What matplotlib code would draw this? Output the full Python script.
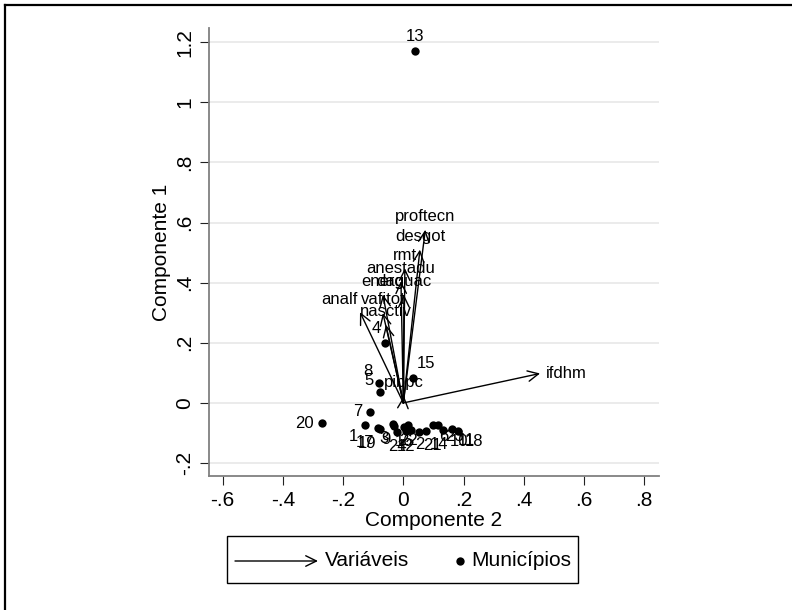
import numpy as np
import matplotlib.pyplot as plt
from matplotlib.lines import Line2D
from matplotlib.patches import Rectangle, FancyArrowPatch

plt.rcParams['font.family'] = ['Liberation Sans', 'DejaVu Sans']

# variables (arrows): loadings on Componente 2 (x) and Componente 1 (y)
var_names = ['proftecn', 'desgot', 'rmt', 'anestadu', 'energ', 'daguac',
             'analf', 'vafitot', 'nasctiv', 'pibpc', 'ifdhm']
var_x = [0.073, 0.055, 0.005, -0.008, -0.068, 0.002,
         -0.144, -0.068, -0.058, 0.002, 0.454]
var_y = [0.576, 0.510, 0.448, 0.405, 0.360, 0.360,
         0.302, 0.299, 0.260, 0.023, 0.098]

# municipios (points)
mun_id = [13, 15, 8, 5, 4, 20, 7, 1,
          19, 17, 3, 9, 24, 16, 12, 22, 2, 21, 14, 6, 23, 10, 11, 18]
mun_x = [0.039, 0.033, -0.080, -0.077, -0.061, -0.271, -0.111, -0.128,
         -0.078, -0.083, -0.036, -0.030, -0.020, 0.002, 0.008, 0.016, 0.026,
         0.053, 0.075, 0.097, 0.116, 0.133, 0.160, 0.182]
mun_y = [1.170, 0.084, 0.066, 0.037, 0.200, -0.068, -0.029, -0.074,
         -0.088, -0.084, -0.070, -0.076, -0.096, -0.079, -0.093, -0.073, -0.090,
         -0.096, -0.092, -0.073, -0.073, -0.090, -0.088, -0.092]

fs = 15
fig = plt.figure(figsize=(7.92, 6.10), dpi=100)
ax = fig.add_axes([209/792, 134/610, 450/792, 448/610])
ax.set_xlim(-0.6455, 0.849)
ax.set_ylim(-0.243, 1.247)

ax.set_xticks([-0.6, -0.4, -0.2, 0, 0.2, 0.4, 0.6, 0.8])
ax.set_xticklabels(['-.6', '-.4', '-.2', '0', '.2', '.4', '.6', '.8'])
ax.set_yticks([-0.2, 0, 0.2, 0.4, 0.6, 0.8, 1.0, 1.2])
ax.set_yticklabels(['-.2', '0', '.2', '.4', '.6', '.8', '1', '1.2'],
                   rotation=90, va='center')
ax.tick_params(direction='out', length=6.5, width=0.8, color='#222222',
               labelsize=fs, pad=4)
for s in ['top', 'right']:
    ax.spines[s].set_visible(False)
for s in ['left', 'bottom']:
    ax.spines[s].set_color('#808080')
    ax.spines[s].set_linewidth(1.3)
ax.yaxis.grid(True, color='#e8e8e8', lw=1.2)
ax.set_axisbelow(True)
ax.set_xlabel('Componente 2', fontsize=fs, labelpad=1)
ax.set_ylabel('Componente 1', fontsize=fs, labelpad=3)


# stata-like clock position from direction angle
def clock(x, y, d=5):
    ang = np.degrees(np.arctan2(y, x))
    pos = int(round((90 - ang) / 30)) % 12
    a = np.deg2rad(90 - 30 * pos)
    dx, dy = d * np.cos(a), d * np.sin(a)
    ha = 'center' if abs(dx) < 1e-6 else ('left' if dx > 0 else 'right')
    va = 'center' if abs(dy) < 2 else ('bottom' if dy > 0 else 'top')
    return dx, dy, ha, va


ax.scatter(mun_x, mun_y, s=36, color='black', zorder=3, linewidths=0)
for i, x, y in zip(mun_id, mun_x, mun_y):
    dx, dy, ha, va = clock(x, y, 5.5)
    ax.annotate(str(i), (x, y), xytext=(dx, dy), textcoords='offset points',
                ha=ha, va=va, fontsize=12)

for n, x, y in zip(var_names, var_x, var_y):
    ax.annotate('', xy=(x, y), xytext=(0, 0),
                arrowprops=dict(arrowstyle='->,head_length=0.55,head_width=0.27',
                                lw=1, color='black', shrinkA=0, shrinkB=0,
                                mutation_scale=14))
    dx, dy, ha, va = clock(x, y, 4)
    ax.annotate(n, (x, y), xytext=(dx, dy), textcoords='offset points',
                ha=ha, va=va, fontsize=12)

# legend box
ly = 1 - 561/610
fig.add_artist(Rectangle((227/792, 1 - 583/610), 351/792, 47/610,
                         transform=fig.transFigure, fill=False, lw=1, ec='black'))
fig.add_artist(FancyArrowPatch((235/792, ly), (318/792, ly),
                               transform=fig.transFigure,
                               arrowstyle='->,head_length=0.55,head_width=0.27',
                               mutation_scale=14, lw=1, color='black',
                               shrinkA=0, shrinkB=0))
fig.text(325/792, ly, 'Variáveis', fontsize=fs, va='center')
fig.add_artist(Line2D([460/792], [ly], marker='o', ms=6, mew=0,
                      color='black', transform=fig.transFigure))
fig.text(471/792, ly, 'Municípios', fontsize=fs, va='center')

# outer frame (top and left edges visible)
fig.add_artist(Line2D([5/792, 5/792], [0, 1 - 5/610], color='black', lw=1.6,
                      transform=fig.transFigure))
fig.add_artist(Line2D([5/792, 1], [1 - 5/610, 1 - 5/610], color='black', lw=1.6,
                      transform=fig.transFigure))

fig.savefig('out.png', dpi=100)
